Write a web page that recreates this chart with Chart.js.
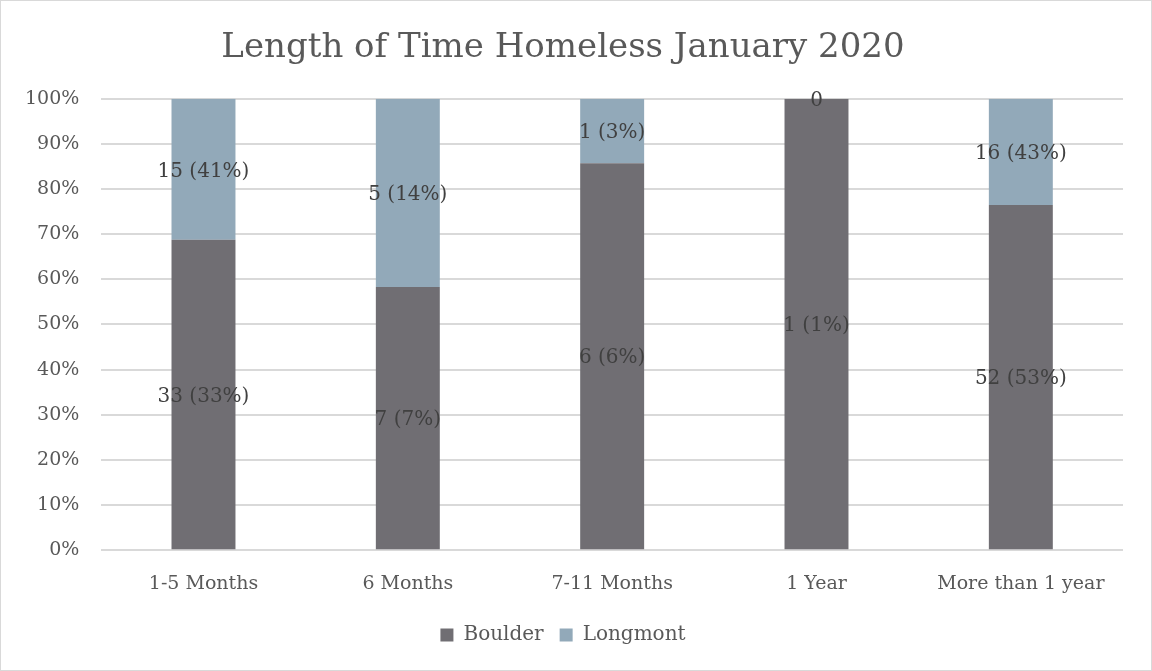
<!DOCTYPE html>
<html>
<head>
<meta charset="utf-8">
<script src="https://cdn.jsdelivr.net/npm/chart.js@4"></script>
<style>
  html, body { margin: 0; padding: 0; background: #fff; }
  #wrap { width: 1150px; height: 669px; border: 1px solid #d9d9d9; }
</style>
</head>
<body>
<div id="wrap"><canvas id="myChart" width="1150" height="669"></canvas></div>
<script>
const categories = ["1-5 Months", "6 Months", "7-11 Months", "1 Year", "More than 1 year"];
const boulderCounts = [33, 7, 6, 1, 52];
const longmontCounts = [15, 5, 1, 0, 16];
const yTicks = [0, 10, 20, 30, 40, 50, 60, 70, 80, 90, 100];

const serif = "'DejaVu Serif', serif";

// share of each category's bar
const catTotals = categories.map((_, i) => boulderCounts[i] + longmontCounts[i]);
const boulderShare = boulderCounts.map((v, i) => (v / catTotals[i]) * 100);
const longmontShare = longmontCounts.map((v, i) => (v / catTotals[i]) * 100);

function labelText(counts, i) {
  const total = counts.reduce((a, b) => a + b, 0);
  const v = counts[i];
  if (!v) return "0";
  return `${v} (${Math.round((v / total) * 100)}%)`;
}

const barLabels = {
  id: "barLabels",
  afterDatasetsDraw(chart) {
    const ctx = chart.ctx;
    ctx.save();
    ctx.font = "20px " + serif;
    ctx.fillStyle = "#404040";
    ctx.textAlign = "center";
    ctx.textBaseline = "middle";
    const sets = [boulderCounts, longmontCounts];
    chart.data.datasets.forEach((ds, d) => {
      chart.getDatasetMeta(d).data.forEach((bar, i) => {
        const y = (bar.y + bar.base) / 2;
        ctx.fillText(labelText(sets[d], i), bar.x, y + 2);
      });
    });
    ctx.restore();
  },
};

const ctx = document.getElementById("myChart").getContext("2d");
new Chart(ctx, {
  type: "bar",
  data: {
    labels: categories,
    datasets: [
      {
        label: "Boulder",
        data: boulderShare,
        backgroundColor: "#706e73",
        barPercentage: 0.313,
        categoryPercentage: 1,
      },
      {
        label: "Longmont",
        data: longmontShare,
        backgroundColor: "#92a9b9",
        barPercentage: 0.313,
        categoryPercentage: 1,
      },
    ],
  },
  options: {
    responsive: false,
    animation: false,
    layout: { padding: { left: 2, right: 28, top: 14, bottom: 15 } },
    plugins: {
      title: {
        display: true,
        text: "Length of Time Homeless January 2020",
        font: { family: serif, size: 34, weight: "normal" },
        color: "#595959",
        padding: { top: 13, bottom: 30 },
      },
      legend: {
        position: "bottom",
        labels: {
          font: { family: serif, size: 20 },
          color: "#595959",
          boxWidth: 13,
          boxHeight: 13,
          padding: 16,
        },
      },
      tooltip: { enabled: false },
    },
    scales: {
      x: {
        stacked: true,
        grid: { display: false },
        border: { display: false },
        ticks: { font: { family: serif, size: 19 }, color: "#595959", padding: 14 },
      },
      y: {
        stacked: true,
        min: 0,
        max: 100,
        afterBuildTicks: (axis) => {
          axis.ticks = yTicks.map((v) => ({ value: v }));
        },
        grid: { color: "#d9d9d9", lineWidth: 2, drawTicks: false },
        border: { display: false },
        ticks: {
          font: { family: serif, size: 19 },
          color: "#595959",
          padding: 22,
          callback: (v) => v + "%",
        },
      },
    },
  },
  plugins: [barLabels],
});
</script>
</body>
</html>
